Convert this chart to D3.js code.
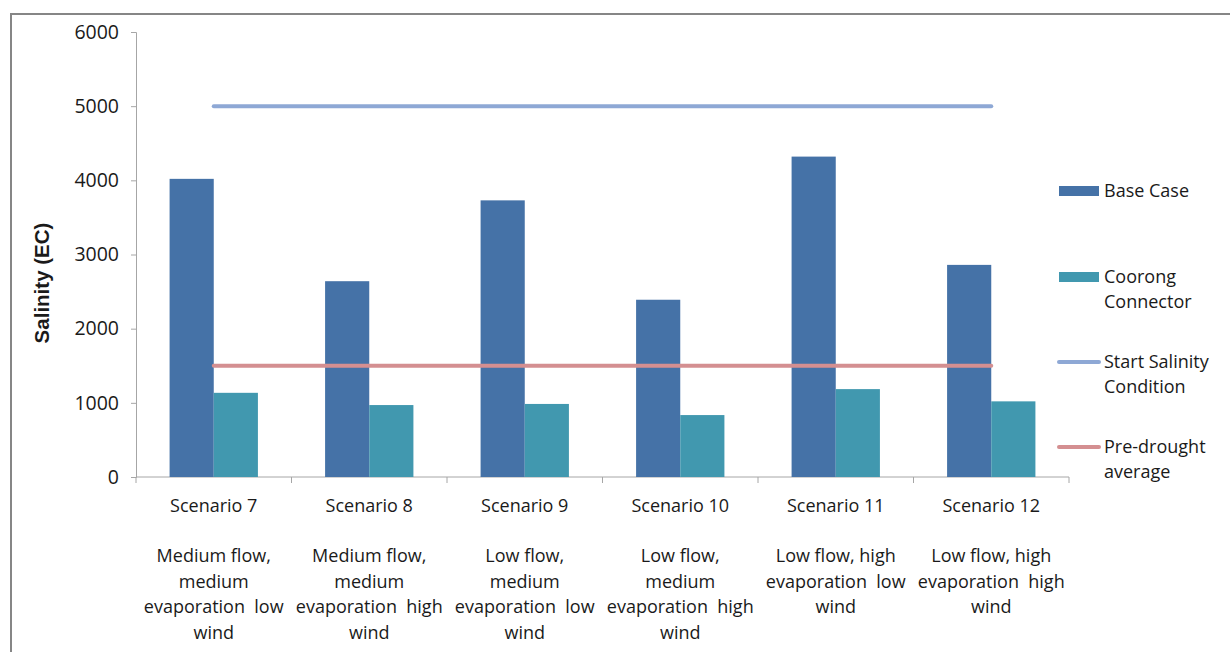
<!DOCTYPE html>
<html>
<head>
<meta charset="utf-8">
<script src="https://cdn.jsdelivr.net/npm/d3@7"></script>
<style>
  body { margin: 0; background: #fff; }
  text { font-family: "Open Sans", "Liberation Sans", sans-serif; fill: #1a1a1a; }
</style>
</head>
<body>
<div id="chart"></div>
<script>
// chart data
var scenarios = ["Scenario 7", "Scenario 8", "Scenario 9", "Scenario 10", "Scenario 11", "Scenario 12"];
var descriptions = [
	["Medium flow,", "medium", "evaporation  low", "wind"],
	["Medium flow,", "medium", "evaporation  high", "wind"],
	["Low flow,", "medium", "evaporation  low", "wind"],
	["Low flow,", "medium", "evaporation  high", "wind"],
	["Low flow, high", "evaporation  low", "wind"],
	["Low flow, high", "evaporation  high", "wind"]
];
var baseCase = [4020, 2640, 3730, 2390, 4320, 2860];
var coorong = [1135, 970, 985, 835, 1185, 1020];
var startSalinity = [5000, 5000, 5000, 5000, 5000, 5000];
var preDrought = [1500, 1500, 1500, 1500, 1500, 1500];
var yTicks = [0, 1000, 2000, 3000, 4000, 5000, 6000];

var w = 1230, h = 652;
var padLeft = 136, padRight = 1069, padTop = 32, padBottom = 477;
var fs = "18px";

var svg = d3.select("#chart").append("svg")
	.attr("width", w)
	.attr("height", h);

// outer frame
svg.append("rect")
	.attr("x", 11).attr("y", 14)
	.attr("width", 1240).attr("height", 660)
	.attr("fill", "none")
	.attr("stroke", "#868686")
	.attr("stroke-width", 2);

var xScale = d3.scaleBand()
	.domain(scenarios)
	.range([padLeft, padRight]);
var barW = xScale.bandwidth() * 0.284;

var yScale = d3.scaleLinear()
	.domain([0, 6000])
	.range([padBottom, padTop]);

// y axis
var yAxis = d3.axisLeft(yScale).tickValues(yTicks).tickFormat(d3.format("d"))
	.tickSize(5).tickPadding(12);
var gy = svg.append("g").attr("transform", "translate(" + padLeft + ",0)").call(yAxis);
gy.select(".domain").attr("stroke", "#a6a6a6");
gy.selectAll(".tick line").attr("stroke", "#a6a6a6");
gy.selectAll(".tick text").attr("font-size", "19.5px").attr("fill", "#1a1a1a")
	.attr("font-family", "Open Sans");

// x axis line and ticks
var gx = svg.append("g");
gx.append("line")
	.attr("x1", padLeft).attr("x2", padRight)
	.attr("y1", padBottom).attr("y2", padBottom)
	.attr("stroke", "#a6a6a6");
var bounds = scenarios.map(function(d) { return xScale(d); }).concat([padRight]);
gx.selectAll(".xt").data(bounds).enter().append("line")
	.attr("x1", function(d) { return d; }).attr("x2", function(d) { return d; })
	.attr("y1", padBottom).attr("y2", padBottom + 6)
	.attr("stroke", "#a6a6a6");

function center(d) { return xScale(d) + xScale.bandwidth() / 2; }

// category labels
svg.selectAll(".cat").data(scenarios).enter().append("text")
	.attr("x", function(d) { return center(d); })
	.attr("y", 512)
	.attr("text-anchor", "middle")
	.attr("font-size", fs)
	.text(function(d) { return d; });

scenarios.forEach(function(s, i) {
	var t = svg.append("text")
		.attr("text-anchor", "middle")
		.attr("font-size", fs)
		.attr("xml:space", "preserve");
	descriptions[i].forEach(function(line, j) {
		t.append("tspan")
			.attr("x", center(s))
			.attr("y", 562 + j * 25.6)
			.text(line);
	});
});

// bars
svg.selectAll(".base").data(baseCase).enter().append("rect")
	.attr("x", function(d, i) { return center(scenarios[i]) - barW; })
	.attr("y", function(d) { return yScale(d); })
	.attr("width", barW)
	.attr("height", function(d) { return padBottom - yScale(d); })
	.attr("fill", "#4572a7");
svg.selectAll(".coor").data(coorong).enter().append("rect")
	.attr("x", function(d, i) { return center(scenarios[i]); })
	.attr("y", function(d) { return yScale(d); })
	.attr("width", barW)
	.attr("height", function(d) { return padBottom - yScale(d); })
	.attr("fill", "#4198af");

// lines
var line = d3.line()
	.x(function(d, i) { return center(scenarios[i]); })
	.y(function(d) { return yScale(d); });
svg.append("path").datum(startSalinity)
	.attr("d", line)
	.attr("fill", "none")
	.attr("stroke", "#8ea8d5")
	.attr("stroke-width", 4)
	.attr("stroke-linecap", "round");
svg.append("path").datum(preDrought)
	.attr("d", line)
	.attr("fill", "none")
	.attr("stroke", "#d48f91")
	.attr("stroke-width", 4)
	.attr("stroke-linecap", "round");

// y axis title
svg.append("text")
	.attr("transform", "translate(49,283) rotate(-90)")
	.attr("text-anchor", "middle")
	.attr("font-weight", "bold")
	.attr("font-size", "20.5px")
	.style("font-family", "Liberation Sans")
	.text("Salinity (EC)");

// legend
var legend = [
	{ name: ["Base Case"], type: "bar", color: "#4572a7", y: 191 },
	{ name: ["Coorong", "Connector"], type: "bar", color: "#4198af", y: 277 },
	{ name: ["Start Salinity", "Condition"], type: "line", color: "#8ea8d5", y: 362 },
	{ name: ["Pre-drought", "average"], type: "line", color: "#d48f91", y: 447 }
];
legend.forEach(function(l) {
	if (l.type == "bar") {
		svg.append("rect")
			.attr("x", 1059).attr("y", l.y - 5)
			.attr("width", 40).attr("height", 10)
			.attr("fill", l.color);
	} else {
		svg.append("line")
			.attr("x1", 1059).attr("x2", 1099)
			.attr("y1", l.y).attr("y2", l.y)
			.attr("stroke", l.color)
			.attr("stroke-width", 4)
			.attr("stroke-linecap", "round");
	}
	l.name.forEach(function(n, j) {
		svg.append("text")
			.attr("x", 1104)
			.attr("y", l.y + 6 + j * 24.5)
			.attr("font-size", fs)
			.text(n);
	});
});
</script>
</body>
</html>
